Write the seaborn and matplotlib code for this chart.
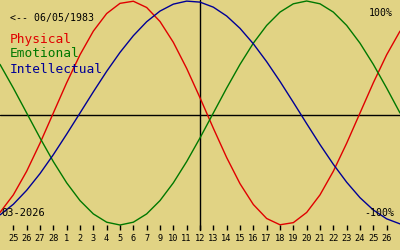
import matplotlib
matplotlib.use("Agg")
import matplotlib.pyplot as plt
import matplotlib.transforms as mtransforms
import pandas as pd
import seaborn as sns

# ---- data (day offset relative to the marked day) ----
days = list(range(-15, 16))
physical = [-0.888, -0.731, -0.520, -0.270, 0.000, 0.270, 0.520, 0.731, 0.888, 0.979,
            0.998, 0.942, 0.817, 0.631, 0.398, 0.136, -0.136, -0.398, -0.631, -0.817,
            -0.942, -0.998, -0.979, -0.888, -0.731, -0.520, -0.270, 0.000, 0.270, 0.520,
            0.731]
emotional = [0.434, 0.2225, 0.000, -0.2225, -0.434, -0.6235, -0.782, -0.901, -0.975, -1.000,
             -0.975, -0.901, -0.782, -0.6235, -0.434, -0.2225, 0.000, 0.2225, 0.434, 0.6235,
             0.782, 0.901, 0.975, 1.000, 0.975, 0.901, 0.782, 0.6235, 0.434, 0.2225,
             0.000]
intellectual = [-0.910, -0.815, -0.690, -0.541, -0.372, -0.189, 0.000, 0.189, 0.372, 0.541,
                0.690, 0.815, 0.910, 0.972, 0.999, 0.990, 0.945, 0.866, 0.756, 0.618,
                0.458, 0.282, 0.095, -0.095, -0.282, -0.458, -0.618, -0.756, -0.866, -0.945,
                -0.990]
series_names = ["Physical", "Emotional", "Intellectual"]
tick_days = list(range(-14, 15))
tick_labels = ["25", "26", "27", "28", "1", "2", "3", "4", "5", "6", "7", "9", "10", "11",
               "12", "13", "14", "15", "16", "17", "18", "19", "20", "21", "22", "23", "24",
               "25", "26"]
birth_text = "<-- 06/05/1983"
month_text = "03-2026"
top_text = "100%"
bottom_text = "-100%"

# ---- styling ----
BG = "#e1d384"
colors = {"Physical": "#e00000", "Emotional": "#007800", "Intellectual": "#000096"}
MONO = ["DejaVu Sans Mono"]

sns.set_theme(style="white")
plt.rcParams["font.family"] = MONO

df = pd.DataFrame({
    "day": days * 3,
    "value": physical + emotional + intellectual,
    "series": ["Physical"] * len(days) + ["Emotional"] * len(days) + ["Intellectual"] * len(days),
})

fig = plt.figure(figsize=(4, 2.5), dpi=100, facecolor=BG)
ax = fig.add_axes([0, 0, 1, 1])
ax.set_facecolor(BG)

sns.lineplot(data=df, x="day", y="value", hue="series", palette=colors,
             hue_order=series_names, legend=False, linewidth=1.0, ax=ax)

ax.set_xlim(-15, 15)
ax.set_ylim(-(250 - 113) / 112, 113 / 112)
for s in ax.spines.values():
    s.set_visible(False)
ax.set_xticks([])
ax.set_yticks([])
ax.set_xlabel("")
ax.set_ylabel("")

# baseline (drawn slightly below zero as in the original) and current-day line
ax.axhline(-2 / 112, color="black", linewidth=1.0, zorder=1)
ax.axvline(0, ymin=0.08, ymax=1.0, color="black", linewidth=1.0, zorder=1)

# custom day ticks
trans = mtransforms.blended_transform_factory(ax.transData, ax.transAxes)
ax.vlines(tick_days, 0.08, 0.10, transform=trans, color="black", linewidth=1.0)
for d, lab in zip(tick_days, tick_labels):
    ax.text(d, 0.036, lab, transform=trans, ha="center", va="baseline",
            fontsize=6.2, color="black", family=MONO)

# texts
ax.text(0.025, 0.916, birth_text, transform=ax.transAxes, ha="left", va="baseline",
        fontsize=7.1, color="black", family=MONO)
ys = [0.829, 0.771, 0.709]
for name, y in zip(series_names, ys):
    ax.text(0.025, y, name, transform=ax.transAxes, ha="left", va="baseline",
            fontsize=9.3, color=colors[name], family=MONO)
ax.text(0.983, 0.936, top_text, transform=ax.transAxes, ha="right", va="baseline",
        fontsize=7.1, color="black", family=MONO)
ax.text(0.985, 0.136, bottom_text, transform=ax.transAxes, ha="right", va="baseline",
        fontsize=7.1, color="black", family=MONO)
ax.text(0.004, 0.136, month_text, transform=ax.transAxes, ha="left", va="baseline",
        fontsize=7.5, color="black", family=MONO)

fig.savefig("out.png", dpi=100, facecolor=BG)
